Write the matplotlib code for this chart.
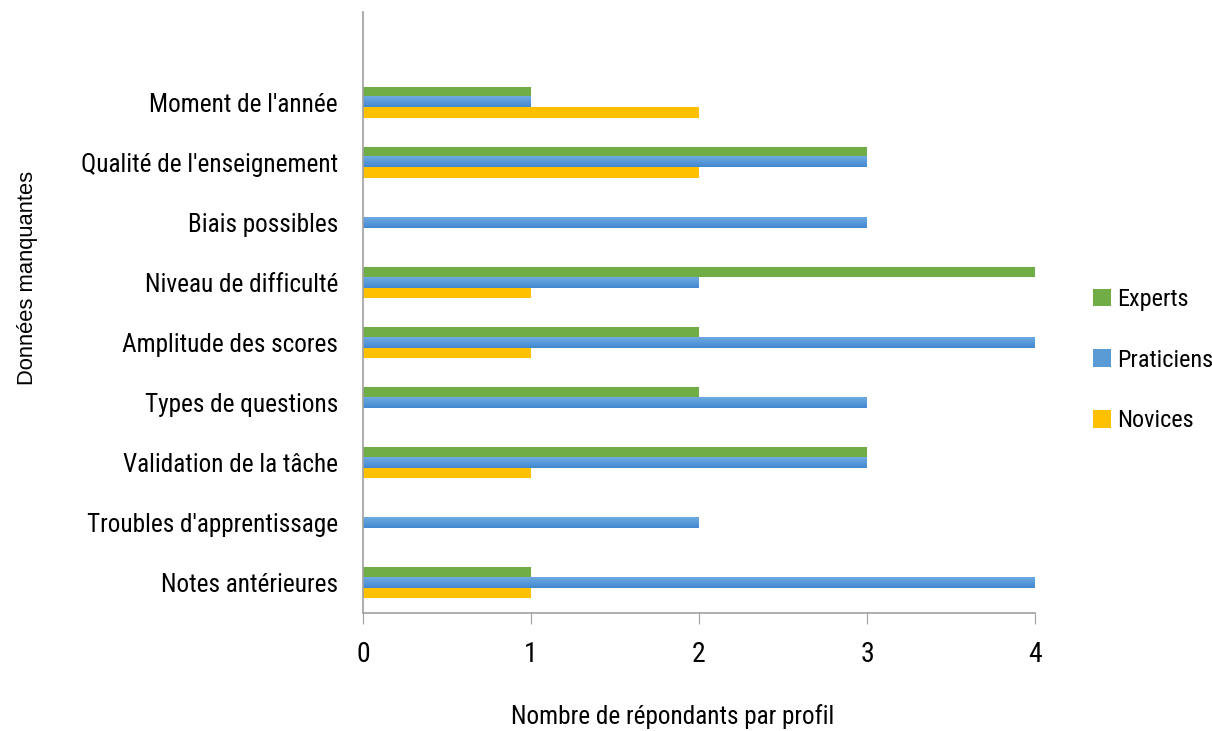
import numpy as np
import matplotlib.pyplot as plt
from matplotlib import font_manager
from matplotlib.font_manager import FontProperties
from matplotlib.colors import LinearSegmentedColormap

# Données (de bas en haut)
categories = ["Notes antérieures", "Troubles d'apprentissage", "Validation de la tâche",
              "Types de questions", "Amplitude des scores", "Niveau de difficulté",
              "Biais possibles", "Qualité de l'enseignement", "Moment de l'année"]
experts = [1, 0, 3, 2, 2, 4, 0, 3, 1]
praticiens = [4, 2, 3, 3, 4, 2, 3, 3, 1]
novices = [1, 0, 1, 0, 1, 1, 0, 2, 2]

# police étroite si disponible
polices = font_manager.fontManager.ttflist
etroite = None
for nom in ['Liberation Sans Narrow', 'Roboto Condensed', 'Open Sans Condensed', 'Noto Sans Condensed']:
    if any(f.name == nom for f in polices):
        etroite = dict(family=[nom, 'DejaVu Sans'], stretch='normal')
        break
if etroite is None and any(f.name == 'DejaVu Sans' and f.stretch == 'condensed' for f in polices):
    etroite = dict(family=['DejaVu Sans'], stretch='condensed')
if etroite is None:
    etroite = dict(family=['DejaVu Sans'], stretch='normal')

fig = plt.figure(figsize=(12.12, 7.31), dpi=100)
rend = fig.canvas.get_renderer()


def taille(texte, largeur, fam, stretch='normal'):
    # taille de police donnant la largeur voulue en pixels
    t = fig.text(0, 0, texte, fontsize=20, family=fam, fontstretch=stretch)
    w = t.get_window_extent(rend).width
    t.remove()
    return 20 * largeur / w


fs = taille("Troubles d'apprentissage", 251, etroite['family'], etroite['stretch'])
fs_leg = taille("Praticiens", 96, etroite['family'], etroite['stretch'])
fs_x = taille("Nombre de répondants par profil", 323, etroite['family'], etroite['stretch'])
fs_y = taille("Données manquantes", 214, ['Liberation Sans', 'DejaVu Sans'])
police = dict(family=etroite['family'], fontstretch=etroite['stretch'])

ax = fig.add_axes([363 / 1212, 1 - 613 / 731, (1035 - 363) / 1212, (613 - 12) / 731])

y = np.arange(len(categories))
h = 0.172
ax.barh(y + h, experts, height=h, color='#70AD47', label='Experts')
barres_p = ax.barh(y, praticiens, height=h, color='#5B9BD5', label='Praticiens')
ax.barh(y - h, novices, height=h, color='#FFC000', label='Novices')

# léger dégradé sur les barres bleues
degrade = LinearSegmentedColormap.from_list('bleu', ['#4389D0', '#6EA9E2'])
for b in barres_p:
    x0, y0, w, hh = b.get_x(), b.get_y(), b.get_width(), b.get_height()
    if w > 0:
        ax.imshow(np.linspace(0, 1, 20).reshape(-1, 1), cmap=degrade, aspect='auto',
                  extent=(x0, x0 + w, y0, y0 + hh), origin='lower', zorder=2)

ax.set_xlim(0, 4)
ax.set_ylim(-0.5, 9.5)
ax.set_yticks(y)
ax.set_yticklabels(categories, fontsize=fs, **police)
ax.set_xticks([0, 1, 2, 3, 4])
ax.set_xticklabels(['0', '1', '2', '3', '4'], fontsize=fs * 1.1, **police)
ax.tick_params(axis='y', length=0, pad=18)
ax.tick_params(axis='x', length=8, color='#A0A0A0', pad=12)

for s in ['top', 'right']:
    ax.spines[s].set_visible(False)
for s in ['left', 'bottom']:
    ax.spines[s].set_color('#A0A0A0')
    ax.spines[s].set_linewidth(1.2)

fig.text(673 / 1212, 1 - 717 / 731, 'Nombre de répondants par profil', fontsize=fs_x,
         ha='center', va='center', **police)
fig.text(28 / 1212, 1 - 278 / 731, 'Données manquantes', fontsize=fs_y, rotation=90,
         ha='center', va='center', family=['Liberation Sans', 'DejaVu Sans'])

ax.legend(loc='center left', bbox_to_anchor=(1093 / 1212, 1 - 360 / 731),
          bbox_transform=fig.transFigure, frameon=False, borderpad=0, borderaxespad=0,
          prop=FontProperties(family=etroite['family'], stretch=etroite['stretch'], size=fs_leg),
          handlelength=0.75, handleheight=0.75, handletextpad=0.25, labelspacing=1.55)

fig.savefig('out.png', dpi=100)
